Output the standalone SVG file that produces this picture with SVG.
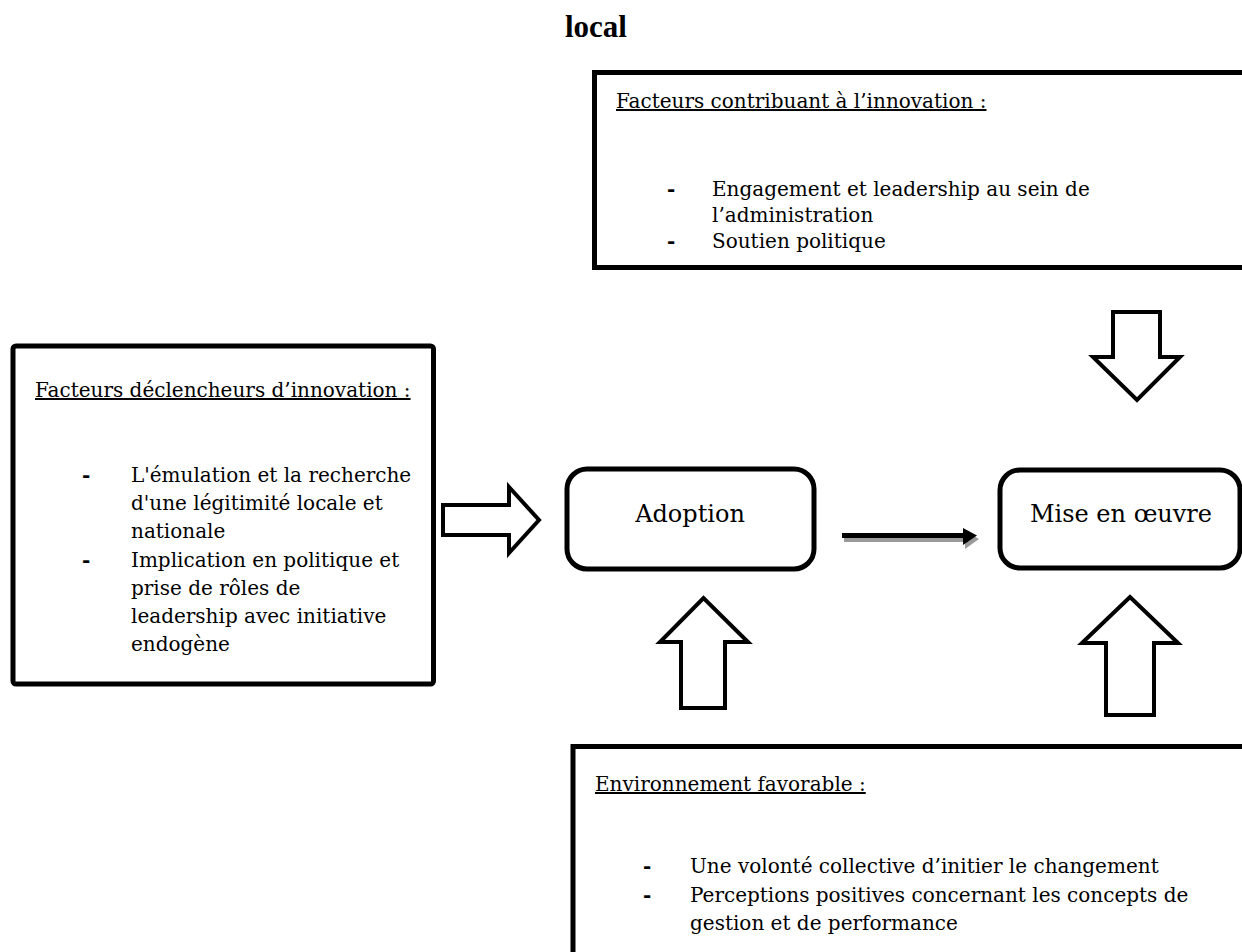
<svg xmlns="http://www.w3.org/2000/svg" width="1242" height="952" viewBox="0 0 1242 952">
<style>
.box{fill:#fff;stroke:#000;stroke-width:5}
.t{font-family:"DejaVu Serif","Liberation Serif",serif;font-size:20px;fill:#000}
.d{font-family:"DejaVu Serif","Liberation Serif",serif;font-size:20px;font-weight:bold;fill:#000}
.u{text-decoration:underline}
.lbl{font-family:"DejaVu Serif","Liberation Serif",serif;font-size:24px;fill:#000;text-anchor:middle}
.ha{fill:#fff;stroke:#000;stroke-width:4;stroke-linejoin:miter}
</style>
<rect width="1242" height="952" fill="#fff"/>
<text x="565" y="37" font-family="Liberation Serif, serif" font-weight="bold" font-size="31">local</text>

<g id="contribuant">
<rect class="box" x="594.5" y="72.5" width="700" height="195"/>
<text class="t u" x="616" y="108">Facteurs contribuant à l’innovation :</text>
<text class="d" x="667" y="196">-</text>
<text class="t" x="712" y="196">Engagement et leadership au sein de</text>
<text class="t" x="712" y="222">l’administration</text>
<text class="d" x="667" y="248">-</text>
<text class="t" x="712" y="248">Soutien politique</text>
</g>

<g id="declencheurs">
<rect class="box" x="13" y="346" width="420.5" height="338" rx="3" stroke-width="4.5"/>
<text class="t u" x="35" y="397">Facteurs déclencheurs d’innovation :</text>
<text class="d" x="82" y="482">-</text>
<text class="t" x="131" y="482">L'émulation et la recherche</text>
<text class="t" x="131" y="510">d'une légitimité locale et</text>
<text class="t" x="131" y="538">nationale</text>
<text class="d" x="82" y="567">-</text>
<text class="t" x="131" y="567">Implication en politique et</text>
<text class="t" x="131" y="595">prise de rôles de</text>
<text class="t" x="131" y="623">leadership avec initiative</text>
<text class="t" x="131" y="651">endogène</text>
</g>

<g id="adoption">
<rect class="box" x="567" y="469" width="247" height="100" rx="20" stroke-width="4.5"/>
<text class="lbl" x="690" y="522">Adoption</text>
</g>

<g id="miseenoeuvre">
<rect class="box" x="1000" y="470" width="240" height="98" rx="20" stroke-width="4.5"/>
<text class="lbl" x="1121" y="522">Mise en œuvre</text>
</g>

<g id="environnement">
<rect class="box" x="573" y="746.5" width="700" height="300"/>
<text class="t u" x="595" y="791">Environnement favorable :</text>
<text class="d" x="643" y="873">-</text>
<text class="t" x="690" y="873">Une volonté collective d’initier le changement</text>
<text class="d" x="643" y="902">-</text>
<text class="t" x="690" y="902">Perceptions positives concernant les concepts de</text>
<text class="t" x="690" y="930">gestion et de performance</text>
</g>

<g id="connectors">
<polygon class="ha" points="443,505 509,505 509,487 539,520 509,553 509,535 443,535"/>
<polygon class="ha" points="681,708 681,642 660,642 703.5,598 748,642 725,642 725,708"/>
<polygon class="ha" points="1106,715 1106,643 1082,643 1130,597 1178,643 1154,643 1154,715"/>
<polygon class="ha" points="1113,312 1160,312 1160,357 1180,357 1137,400 1093,357 1113,357"/>
<g fill="#9a9a9a">
<rect x="844" y="537" width="121" height="5"/>
<polygon points="965,531 979,539 965,549"/>
</g>
<g fill="#000">
<rect x="842" y="533" width="122" height="5"/>
<polygon points="963,528 977,535.5 963,545"/>
</g>
</g>
</svg>
